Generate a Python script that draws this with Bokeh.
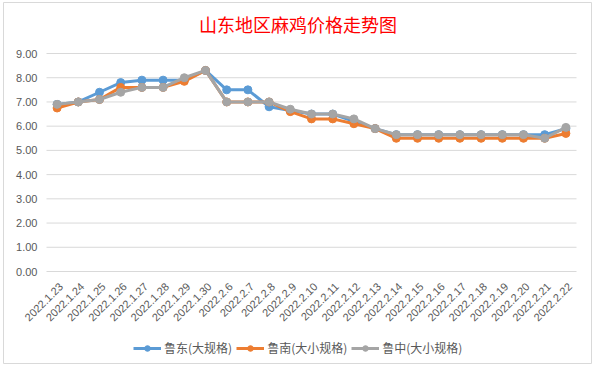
import math
from bokeh.plotting import figure
from bokeh.models import Legend, FixedTicker, NumeralTickFormatter, ColumnDataSource, Label
from bokeh.core.properties import value
from bokeh.embed import file_html
from bokeh.resources import INLINE

title = "山东地区麻鸡价格走势图"
dates = ["2022.1.23", "2022.1.24", "2022.1.25", "2022.1.26", "2022.1.27", "2022.1.28",
         "2022.1.29", "2022.1.30", "2022.2.6", "2022.2.7", "2022.2.8", "2022.2.9",
         "2022.2.10", "2022.2.11", "2022.2.12", "2022.2.13", "2022.2.14", "2022.2.15",
         "2022.2.16", "2022.2.17", "2022.2.18", "2022.2.19", "2022.2.20", "2022.2.21",
         "2022.2.22"]
ludong = [6.9, 7.0, 7.4, 7.8, 7.9, 7.9, 7.9, 8.3, 7.5, 7.5, 6.8, 6.65, 6.5, 6.5, 6.2,
          5.9, 5.65, 5.65, 5.65, 5.65, 5.65, 5.65, 5.65, 5.65, 5.9]
lunan = [6.75, 7.0, 7.1, 7.6, 7.6, 7.6, 7.85, 8.3, 7.0, 7.0, 7.0, 6.6, 6.3, 6.3, 6.1,
         5.9, 5.5, 5.5, 5.5, 5.5, 5.5, 5.5, 5.5, 5.5, 5.7]
luzhong = [6.9, 7.0, 7.1, 7.4, 7.6, 7.6, 8.0, 8.3, 7.0, 7.0, 7.0, 6.7, 6.5, 6.5, 6.3,
           5.9, 5.65, 5.65, 5.65, 5.65, 5.65, 5.65, 5.65, 5.5, 5.95]
names = ["鲁东(大规格)", "鲁南(大小规格)", "鲁中(大小规格)"]
colors = ["#5B9BD5", "#ED7D31", "#A5A5A5"]
yticks = [0, 1, 2, 3, 4, 5, 6, 7, 8, 9]

n = len(dates)
idx = list(range(n))
src = ColumnDataSource(dict(x=idx, a=ludong, b=lunan, c=luzhong))
lab = ColumnDataSource(dict(x=idx, y=[0] * n, t=dates))
grid = ColumnDataSource(dict(x0=[-0.5] * len(yticks), x1=[n - 0.5] * len(yticks),
                             y=yticks))

# layout in pixels (page coordinates)
FL, FR = 3, 591           # chart-area border (x)
FT, FB = 2, 363           # chart-area border (y)
BL, BR = 46, 576          # band of categories (grid extent)
TOP, ZERO = 53, 271       # y of value 9 and value 0
cw = (BR - BL) / n
xr = (-0.5 - (BL - FL) / cw, n - 0.5 + (FR - BR) / cw)
ppu = (ZERO - TOP) / 9.0
yr = (-(FB - ZERO) / ppu, 9 + (TOP - FT) / ppu)

p = figure(frame_width=FR - FL, frame_height=FB - FT, x_range=xr, y_range=yr,
           title=None, output_backend="svg", toolbar_location=None,
           min_border_left=FL, min_border_right=1, min_border_top=FT,
           min_border_bottom=1, background_fill_color="white",
           border_fill_color="white", outline_line_color="#D9D9D9",
           outline_line_width=1)

p.xgrid.grid_line_color = None
p.ygrid.grid_line_color = None
p.xaxis.visible = False

# value axis: real axis, labels pulled inside next to the grid band
p.yaxis.ticker = FixedTicker(ticks=yticks)
p.yaxis.formatter = NumeralTickFormatter(format="0.00")
p.yaxis.axis_line_color = None
p.yaxis.major_tick_line_color = None
p.yaxis.minor_tick_line_color = None
p.yaxis.major_tick_out = 0
p.yaxis.major_tick_in = 0
p.yaxis.major_label_standoff = -(BL - 9 - FL)
p.yaxis.major_label_text_font = "Liberation Sans"
p.yaxis.major_label_text_font_size = "11px"
p.yaxis.major_label_text_color = "#595959"

# chart title, centred over the chart area
p.add_layout(Label(x=-0.5 + (297.5 - BL) / cw, y=9 + (TOP - 23) / ppu, text=title,
                   text_align="center", text_baseline="middle",
                   text_font="Noto Sans CJK SC", text_font_size="18px",
                   text_color="#FF0000"))

# horizontal gridlines across the category band only
p.segment(x0="x0", x1="x1", y0="y", y1="y", source=grid,
          line_color="#D9D9D9", line_width=1)

# category labels, rotated 45 degrees, hanging below the zero line
p.text("x", "y", text="t", source=lab, angle=math.pi / 4,
       text_align="right", text_baseline="middle", x_offset=4, y_offset=13,
       text_font=value("Liberation Sans"), text_font_size="11px",
       text_color="#595959")

items = []
for col, name, color in zip(["a", "b", "c"], names, colors):
    r1 = p.line("x", col, source=src, line_color=color, line_width=3)
    r2 = p.scatter("x", col, source=src, marker="circle", size=8,
                   fill_color=color, line_color=color)
    items.append((name, [r1, r2]))

legend = Legend(items=items, orientation="horizontal", location=(133 - FL, FB - 356),
                label_text_font="Noto Sans CJK SC", label_text_font_size="12px",
                label_text_color="#595959", glyph_width=28, glyph_height=14,
                label_standoff=3, spacing=4, padding=2, margin=0,
                border_line_color=None, background_fill_alpha=0)
p.add_layout(legend, "center")

open("out.html", "w").write(file_html(p, INLINE))
